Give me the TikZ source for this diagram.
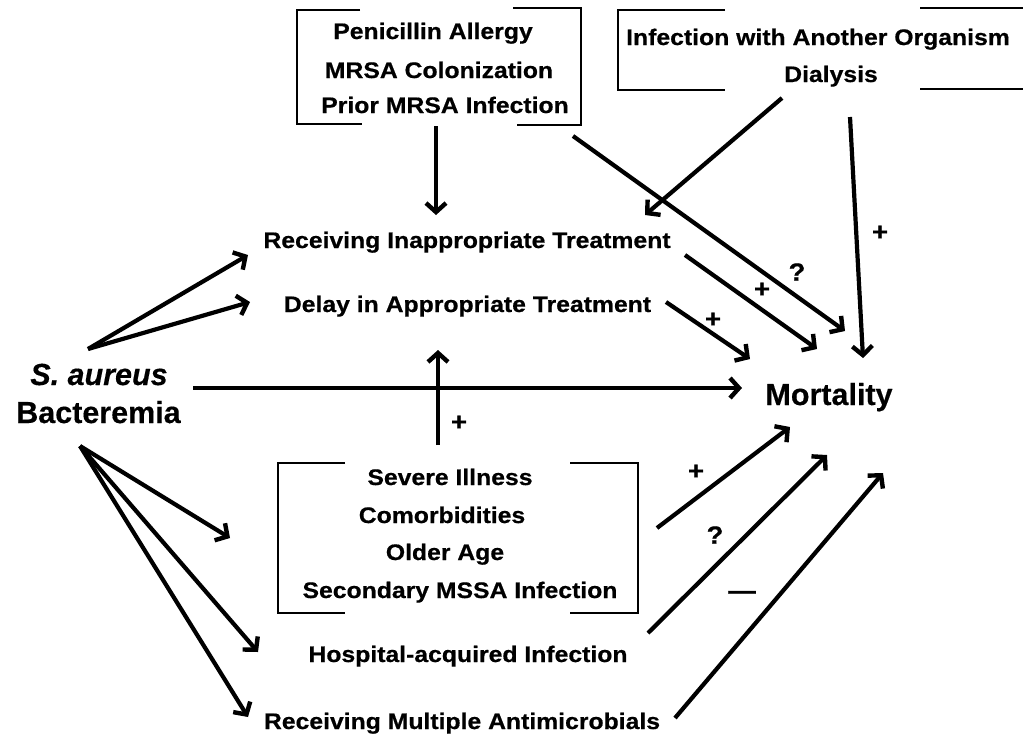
\documentclass[tikz,border=0pt]{standalone}
\usepackage{fontspec}
\setmainfont{Liberation Sans}
\newfontfamily\labfont{Liberation Sans}[FakeStretch=1.1,FakeBold=0.6]
\newfontfamily\bigfont{Liberation Sans}[FakeBold=0.4]
\usetikzlibrary{arrows.meta}
\tikzset{
  lbl/.style={font=\labfont\bfseries\fontsize{22.5}{27}\selectfont, inner sep=0pt, anchor=base},
  big/.style={font=\bigfont\bfseries\fontsize{30.5}{36}\selectfont, inner sep=0pt, anchor=base},
  sign/.style={font=\labfont\bfseries\fontsize{25}{30}\selectfont, inner sep=0pt},
  arr/.style={line width=4.2pt, -{Straight Barb[length=9pt,width=20pt,line width=4.4pt]}},
  brk/.style={line width=2.5pt},
}
\begin{document}
\begin{tikzpicture}[x=1pt,y=-1pt]
\useasboundingbox (0,0) rectangle (1023,740);

% ---- bracket boxes
\draw[brk] (360,10) -- (297,10) -- (297,124) -- (362,124);
\draw[brk] (513,8) -- (581,8) -- (581,125) -- (517,125);
\draw[brk] (725,10) -- (618,10) -- (618,90) -- (725,90);
\draw[brk] (920,8) -- (1023,8);
\draw[brk] (920,89) -- (1023,89);
\draw[brk] (345,463) -- (278,463) -- (278,613) -- (345,613);
\draw[brk] (570,463) -- (638,463) -- (638,613) -- (570,613);

% ---- texts
\node[lbl] (pen) at (433,39) {Penicillin Allergy};
\node[lbl] (mrsac) at (439,78) {MRSA Colonization};
\node[lbl] (prior) at (445,113) {Prior MRSA Infection};
\node[lbl] (other) at (818,45) {Infection with Another Organism};
\node[lbl] (dial) at (831,82) {Dialysis};
\node[lbl] (inapp) at (467,248) {Receiving Inappropriate Treatment};
\node[lbl] (delay) at (467.5,312) {Delay in Appropriate Treatment};
\node[big] (saur) at (99,385) {\itshape S. aureus};
\node[big] (bact) at (98.5,423) {Bacteremia};
\node[big] (mort) at (829,405) {Mortality};
\node[lbl] (sev) at (450,485) {Severe Illness};
\node[lbl] (como) at (442,523) {Comorbidities};
\node[lbl] (older) at (445,560) {Older Age};
\node[lbl] (second) at (460,598) {Secondary MSSA Infection};
\node[lbl] (hosp) at (468,662) {Hospital-acquired Infection};
\node[lbl] (multi) at (462,729) {Receiving Multiple Antimicrobials};

% ---- arrow end points
\coordinate (b1s) at (436,126);
\coordinate (b1e) at (436,215);
\coordinate (q1s) at (573,136);
\coordinate (q1e) at (845,331);
\coordinate (b2s) at (782,98);
\coordinate (b2e) at (645,215);
\coordinate (v2s) at (850,117);
\coordinate (v2e) at (863,358);
\coordinate (ins) at (685,255);
\coordinate (ine) at (817,349);
\coordinate (des) at (666,302);
\coordinate (dee) at (750,359);
\coordinate (sau) at (88,349);
\coordinate (sau1) at (248,255);
\coordinate (sau2) at (250,302);
\coordinate (mhs) at (193,388);
\coordinate (mhe) at (742,388);
\coordinate (ups) at (438,445);
\coordinate (upe) at (438,350);
\coordinate (sad) at (80,446);
\coordinate (sad1) at (230,538);
\coordinate (sad2) at (258,652);
\coordinate (sad3) at (248,717);
\coordinate (bx3s) at (657,528);
\coordinate (bx3e) at (790,427);
\coordinate (hos) at (648,633);
\coordinate (hoe) at (827,455);
\coordinate (mus) at (675,718);
\coordinate (mue) at (883,473);

% ---- connectors
\draw[arr] (b1s) -- (b1e);
\draw[arr] (q1s) -- (q1e);
\draw[arr] (b2s) -- (b2e);
\draw[arr] (v2s) -- (v2e);
\draw[arr] (ins) -- (ine);
\draw[arr] (des) -- (dee);
\draw[arr] (sau) -- (sau1);
\draw[arr] (sau) -- (sau2);
\draw[arr] (mhs) -- (mhe);
\draw[arr] (ups) -- (upe);
\draw[arr] (sad) -- (sad1);
\draw[arr] (sad) -- (sad2);
\draw[arr] (sad) -- (sad3);
\draw[arr] (bx3s) -- (bx3e);
\draw[arr] (hos) -- (hoe);
\draw[arr] (mus) -- (mue);

% ---- signs
\node[sign] (s1) at (880,233) {+};
\node[sign] (s2) at (797,272) {?};
\node[sign] (s3) at (762,290) {+};
\node[sign] (s4) at (713,320) {+};
\node[sign] (s5) at (459,423) {+};
\node[sign] (s6) at (696,472) {+};
\node[sign] (s7) at (715,535) {?};
\node[sign] (s8) at (742,595) {—};
\end{tikzpicture}
\end{document}
